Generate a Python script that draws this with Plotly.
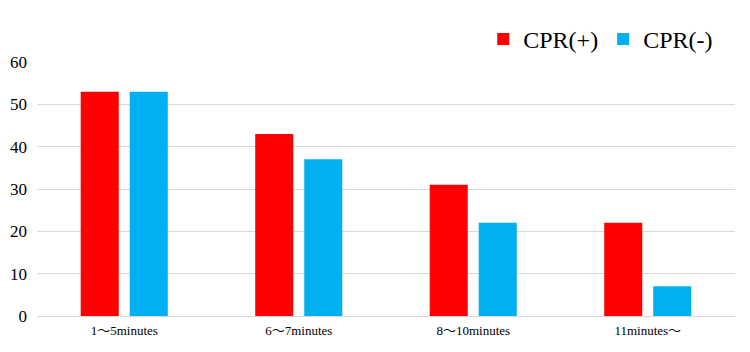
import plotly.graph_objects as go

categories = ["1～5minutes", "6～7minutes", "8～10minutes", "11minutes～"]
cpr_pos = [53, 43, 31, 22]
cpr_neg = [53, 37, 22, 7]
series_names = ["CPR(+)", "CPR(-)"]
colors = ["#FF0000", "#00B0F0"]

fig = go.Figure()
for name, vals, c in zip(series_names, [cpr_pos, cpr_neg], colors):
    fig.add_trace(go.Bar(x=categories, y=vals, name=name, marker=dict(color=c, line=dict(width=0))))

fig.update_layout(
    width=750, height=352,
    margin=dict(l=37, r=15, t=62, b=36),
    plot_bgcolor="white", paper_bgcolor="white",
    barmode="group", bargap=0.438, bargroupgap=0.224,
    font=dict(family="Liberation Serif, Noto Sans CJK JP", color="#000000", size=13),
    legend=dict(orientation="h", x=0.976, xanchor="right", y=1.0, yanchor="bottom",
                font=dict(size=24, family="Liberation Serif"), traceorder="normal",
                itemwidth=30),
    showlegend=True,
)
fig.update_yaxes(range=[0, 60], dtick=10, showgrid=True, gridcolor="#D9D9D9", gridwidth=1,
                 zeroline=True, zerolinecolor="#D9D9D9", zerolinewidth=1, automargin=False,
                 tickfont=dict(size=17), ticks="", ticklen=0, ticklabelstandoff=9)
fig.update_xaxes(showline=False, tickfont=dict(size=13), ticklabelstandoff=5, automargin=False)

fig.write_html("out.html")
